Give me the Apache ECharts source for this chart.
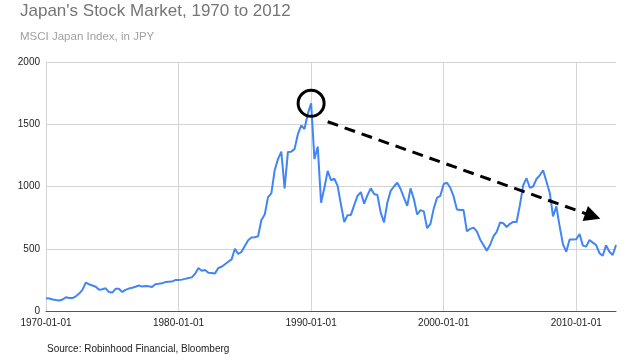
<!DOCTYPE html>
<html>
<head>
<meta charset="utf-8">
<script src="https://cdn.jsdelivr.net/npm/echarts@6/dist/echarts.min.js"></script>
<style>
  html, body { margin: 0; padding: 0; background: #fff; }
  #chart { width: 627px; height: 364px; }
</style>
</head>
<body>
<div id="chart"></div>
<script>
// Quarterly observation dates, 1970-01-01 to 2013-01-01
const dates = [];
for (let y = 1970; y <= 2013; y++) {
  for (const m of ['01', '04', '07', '10']) {
    if (y === 2013 && m !== '01') break;
    dates.push(y + '-' + m + '-01');
  }
}

// MSCI Japan index level (JPY)
const values1970s = [102, 100, 92, 88, 85, 92, 110, 104, 104, 118, 140, 170, 228, 215, 205, 195, 170, 175, 182, 152,
  148, 178, 178, 153, 170, 180, 187, 195, 205, 196, 200, 198, 193, 215, 218, 222, 232, 234, 236, 248];
const values1980s = [249, 252, 258, 265, 270, 300, 345, 324, 330, 308, 305, 302, 345, 355, 375, 395, 415, 500, 458, 475,
  522, 568, 590, 592, 600, 731, 775, 915, 945, 1130, 1220, 1280, 985, 1278, 1280, 1300, 1420, 1490, 1462, 1585];
const values1990s = [1668, 1220, 1320, 870, 990, 1125, 1050, 1062, 1005, 855, 715, 770, 772, 850, 925, 955, 862, 930, 985, 940,
  932, 790, 712, 870, 965, 1000, 1030, 980, 910, 845, 985, 900, 775, 810, 800, 665, 700, 822, 910, 925];
const values2000s = [1020, 1030, 990, 920, 815, 811, 811, 640, 660, 670, 640, 575, 530, 485, 530, 600, 635, 710, 705, 675,
  700, 715, 715, 850, 1010, 1066, 990, 1000, 1060, 1090, 1130, 1040, 950, 760, 840, 680, 535, 475, 575, 575];
const values2010s = [576, 618, 525, 517, 570, 549, 530, 465, 444, 528, 476, 450, 530];
const values = [].concat(values1970s, values1980s, values1990s, values2000s, values2010s);

// Axis ticks
const yTicks = [0, 500, 1000, 1500, 2000];

// Annotation anchors (data space)
const peakDate = '1990-01-01', peakValue = 1668;
const trendStart = ['1991-04-01', 1520];
const trendEnd = ['2011-04-01', 762];

const titleText = "Japan's Stock Market, 1970 to 2012";
const subtitleText = 'MSCI Japan Index, in JPY';
const sourceText = 'Source: Robinhood Financial, Bloomberg';

const FONT = '"Liberation Sans", Arial, sans-serif';
const chart = echarts.init(document.getElementById('chart'), null, { renderer: 'canvas' });

chart.setOption({
  animation: false,
  backgroundColor: '#ffffff',
  title: [{
    text: titleText,
    subtext: subtitleText,
    left: 20,
    top: 3,
    padding: 0,
    itemGap: 11,
    textStyle: { fontFamily: FONT, fontSize: 17, fontWeight: 'normal', color: '#757575' },
    subtextStyle: { fontFamily: FONT, fontSize: 11.5, color: '#a0a0a0' }
  }, {
    text: sourceText,
    left: 47,
    top: 344,
    padding: 0,
    textStyle: { fontFamily: FONT, fontSize: 10, fontWeight: 'normal', color: '#222222' }
  }],
  grid: { left: 46, right: 11, top: 62, bottom: 53, containLabel: false },
  xAxis: {
    type: 'category',
    data: dates,
    boundaryGap: false,
    axisLine: { show: true, lineStyle: { color: '#555555', width: 1 } },
    axisTick: { show: false },
    axisLabel: { interval: 39, margin: 7, fontFamily: FONT, fontSize: 10, color: '#222222' },
    splitLine: { show: true, interval: 39, lineStyle: { color: '#d4d4d4', width: 1 } }
  },
  yAxis: {
    type: 'value',
    min: yTicks[0],
    max: yTicks[yTicks.length - 1],
    interval: 500,
    axisLine: { show: false },
    axisTick: { show: false },
    axisLabel: { margin: 6, fontFamily: FONT, fontSize: 10, color: '#222222', formatter: (v) => String(v) },
    splitLine: { show: true, lineStyle: { color: '#d4d4d4', width: 1 } }
  },
  series: [{
    type: 'line',
    data: values,
    showSymbol: false,
    smooth: false,
    lineStyle: { color: '#4285F4', width: 2 },
    itemStyle: { color: '#4285F4' },
    markPoint: {
      silent: true,
      symbol: 'circle',
      symbolSize: 26,
      itemStyle: { color: 'rgba(0,0,0,0)', borderColor: '#000000', borderWidth: 3 },
      label: { show: false },
      data: [{ coord: [peakDate, peakValue] }]
    },
    markLine: {
      silent: true,
      symbol: ['none', 'triangle'],
      symbolSize: 16,
      label: { show: false },
      itemStyle: { color: '#000000' },
      lineStyle: { color: '#000000', width: 3, type: [11, 7] },
      data: [[{ coord: trendStart }, { coord: trendEnd }]]
    }
  }]
});
</script>
</body>
</html>
